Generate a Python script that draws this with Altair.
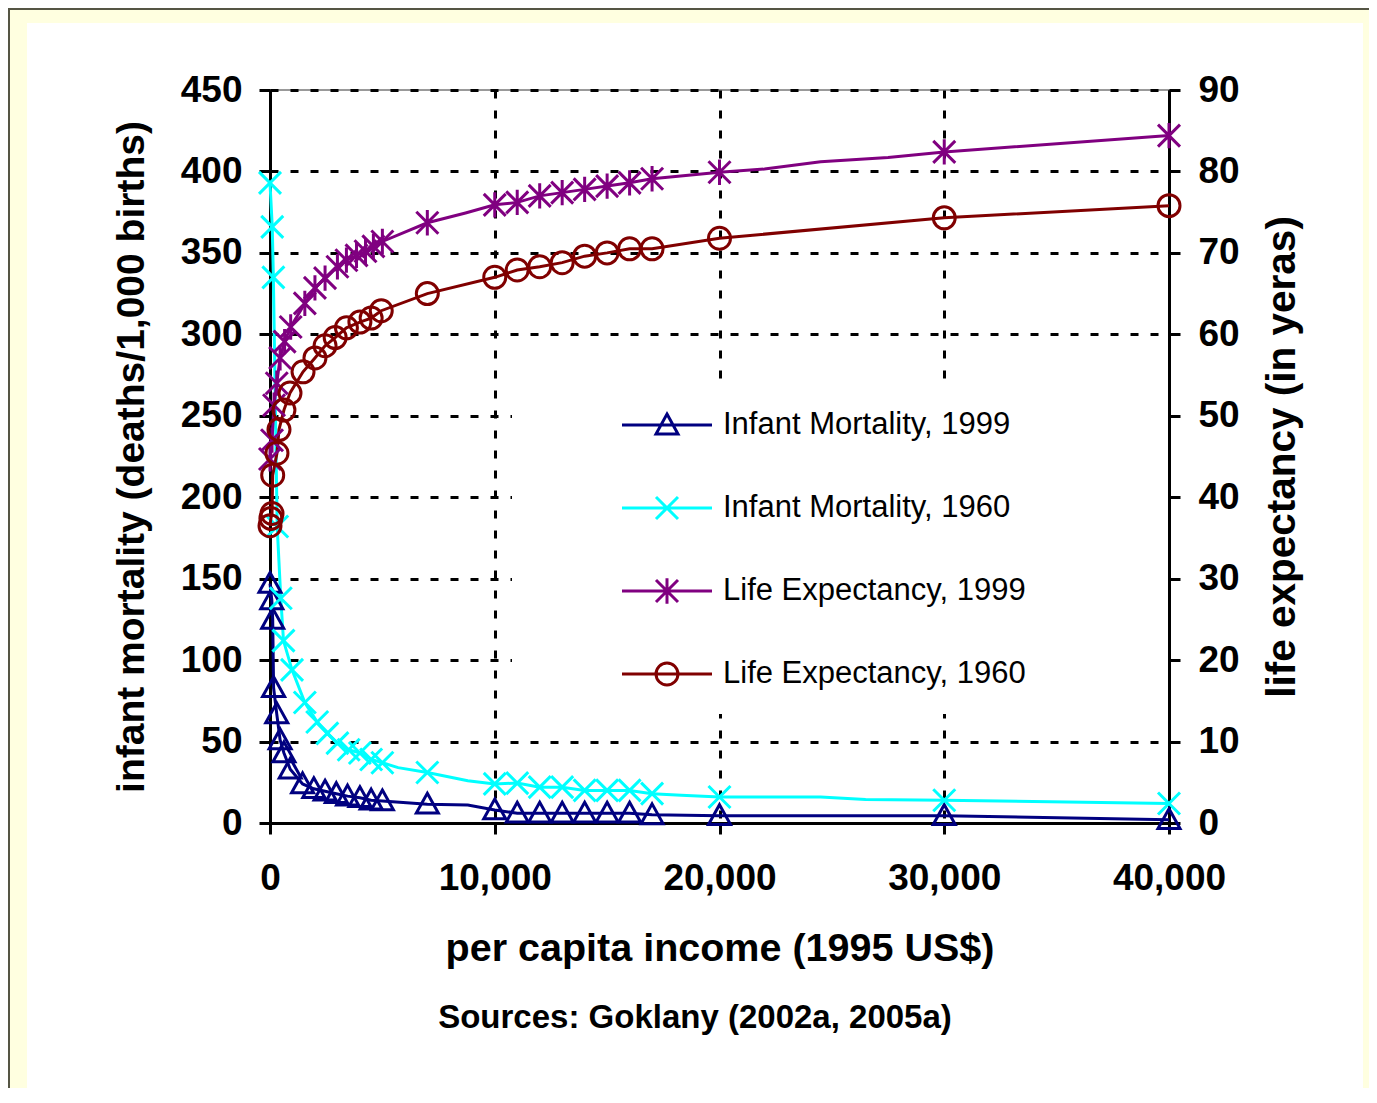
import altair as alt
import pandas as pd

# ---------------- data ----------------
series_names = ["Infant Mortality, 1999", "Infant Mortality, 1960",
                "Life Expectancy, 1999", "Life Expectancy, 1960"]
series_colors = ["#000080", "#00FFFF", "#800080", "#800000"]
source_note = "Sources: Goklany (2002a, 2005a)"

x_ticks = [0, 10000, 20000, 30000, 40000]
left_ticks = [0, 50, 100, 150, 200, 250, 300, 350, 400, 450]
right_ticks = [0, 10, 20, 30, 40, 50, 60, 70, 80, 90]

im1999_income = [0, 80, 120, 160, 300, 450, 620, 900, 1450, 1950, 2450, 2950, 3450,
                 4000, 4500, 5000, 7000, 8800, 10000, 11000, 12000, 13000, 14000,
                 15000, 16000, 17000, 20000, 30000, 40000]
im1999_value = [147, 137, 125, 83, 67, 51, 43, 33, 24, 21, 19.5, 18, 16.5,
                15.5, 14, 13.5, 11.5, 11, 8, 6, 6, 6, 6,
                6, 6, 5, 4.5, 4.5, 2]
im1999_marker = [1] * 17 + [0] + [1] * 11

im1960_income = [0, 100, 150, 320, 480, 600, 980, 1550, 2100, 2550, 3000, 3500, 4000,
                 4500, 5000, 5700, 7000, 8800, 10000, 11000, 12000, 13000, 14000,
                 15000, 16000, 17000, 18300, 20000, 24500, 26500, 30000, 40000]
im1960_value = [393, 366, 335, 182, 138, 112, 94, 74, 62, 55, 49, 45, 43,
                39, 37, 34, 31, 26, 24, 24.5, 22, 22, 20,
                20, 20, 18, 17, 16, 16, 14.5, 14, 12]
im1960_marker = [1] * 15 + [0, 1, 0] + [1] * 8 + [0, 1, 0, 0, 1, 1]

le1999_income = [0, 90, 180, 300, 450, 650, 920, 1550, 2000, 2450, 3000, 3400, 3850,
                 4250, 4600, 5000, 7000, 8700, 10000, 11000, 12000, 13000, 14000,
                 15000, 16000, 17000, 20000, 22000, 24500, 27500, 30000, 40000]
le1999_value = [44.7, 47.0, 51.3, 54.0, 57.1, 59.1, 60.9, 63.8, 65.7, 66.9, 68.3, 69.1, 69.7,
                70.2, 70.8, 71.4, 73.7, 74.9, 75.9, 76.2, 77.0, 77.4, 77.8,
                78.2, 78.6, 79.1, 79.9, 80.3, 81.2, 81.7, 82.4, 84.4]
le1999_marker = [1] * 17 + [0] + [1] * 9 + [0, 0, 0, 1, 1]

le1960_income = [0, 40, 90, 120, 310, 400, 620, 890, 1470, 2000, 2450, 2900, 3400,
                 4000, 4500, 4950, 7000, 10000, 11000, 12000, 13000, 14000, 15000,
                 16000, 17000, 20000, 30000, 40000]
le1960_value = [36.5, 37.4, 38.0, 42.7, 45.4, 48.3, 50.7, 52.8, 55.4, 57.1, 58.6, 59.6, 60.8,
                61.5, 62.0, 62.9, 65.0, 67.0, 67.9, 68.3, 68.8, 69.6, 70.0,
                70.5, 70.5, 71.8, 74.3, 75.8]
le1960_marker = [1] * 28


def series_frame(name, income, value, marker):
    return pd.DataFrame({"series": name, "income": income, "value": value,
                         "marker": marker, "order": list(range(len(income)))})


im_df = pd.concat([series_frame(series_names[0], im1999_income, im1999_value, im1999_marker),
                   series_frame(series_names[1], im1960_income, im1960_value, im1960_marker)])
le_df = pd.concat([series_frame(series_names[2], le1999_income, le1999_value, le1999_marker),
                   series_frame(series_names[3], le1960_income, le1960_value, le1960_marker)])
legend_df = pd.DataFrame({"series": series_names})
frame_df = pd.DataFrame({"k": [0]})

# ---------------- styles ----------------
FONT = "Liberation Sans"
marker_paths = ["M0,-1L1,0.8L-1,0.8Z",
                "M-1,-1L1,1M-1,1L1,-1",
                "M-1,-1L1,1M-1,1L1,-1M0,-1.15L0,1.15",
                "circle"]

# legend symbol box is 188px wide (scale 94px per unit); the visible sample
# (90px line + 22px marker) sits in its right part, just before the label.
c = 0.4202   # marker centre
h = 0.4787   # half line length
m = 0.117    # half marker size
a, b = c - h, c + h
legend_paths = [
    f"M{a:.4f},0L{b:.4f},0M{c},{-m}L{c + m:.4f},{0.82 * m:.4f}L{c - m:.4f},{0.82 * m:.4f}Z",
    f"M{a:.4f},0L{b:.4f},0M{c - m:.4f},{-m}L{c + m:.4f},{m}M{c - m:.4f},{m}L{c + m:.4f},{-m}",
    f"M{a:.4f},0L{b:.4f},0M{c - m:.4f},{-m}L{c + m:.4f},{m}M{c - m:.4f},{m}L{c + m:.4f},{-m}"
    f"M{c},{-1.15 * m:.4f}L{c},{1.15 * m:.4f}",
    f"M{a:.4f},0L{b:.4f},0M{c + m:.4f},0A{m},{m} 0 1,1 {c - m:.4f},0A{m},{m} 0 1,1 {c + m:.4f},0",
]

x_enc = alt.X("income:Q", scale=alt.Scale(domain=[0, 40000], nice=False),
              axis=alt.Axis(values=x_ticks, format=",.0f", title="per capita income (1995 US$)",
                            labelPadding=26, titlePadding=33, grid=True, titleFontSize=39.5))
color_enc = alt.Color("series:N", scale=alt.Scale(domain=series_names, range=series_colors),
                      legend=None)
shape_enc = alt.Shape("series:N", scale=alt.Scale(domain=series_names, range=marker_paths),
                      legend=None)

y_left = alt.Y("value:Q", scale=alt.Scale(domain=[0, 450], nice=False),
               axis=alt.Axis(orient="left", values=left_ticks, grid=True, format="d",
                             title="infant mortality (deaths/1,000 births)",
                             titleAngle=270, titleBaseline="bottom", titleFontSize=39,
                             labelPadding=17, titlePadding=29))
y_right = alt.Y("value:Q", scale=alt.Scale(domain=[0, 90], nice=False),
                axis=alt.Axis(orient="right", values=right_ticks, grid=False, format="d",
                              title="life expectancy (in yeras)",
                              titleAngle=270, titleBaseline="top", titleFontSize=40.5,
                              labelPadding=18, titlePadding=23))


def series_layer(df, y_enc):
    base = alt.Chart(df)
    line = base.mark_line(strokeWidth=3).encode(
        x=x_enc, y=y_enc, color=color_enc, order=alt.Order("order:Q"))
    pts = base.transform_filter(alt.datum.marker == 1).mark_point(
        filled=False, strokeWidth=3, size=484, opacity=1).encode(
        x=x_enc, y=y_enc, color=color_enc, shape=shape_enc)
    return alt.layer(line, pts)


im_layer = series_layer(im_df, y_left)
le_layer = series_layer(le_df, y_right)

BLANK = "\u2800" * 5
legend_def = alt.Legend(orient="none", legendX=242, legendY=295, padding=20, title=None,
                        fillColor="white",
                        labelFont=FONT, labelFontSize=31, labelColor="black",
                        labelExpr=f"datum.label + '{BLANK}'",
                        labelOffset=0, labelLimit=800, symbolSize=188 * 188,
                        symbolStrokeWidth=3, clipHeight=40, rowPadding=43,
                        symbolOpacity=1)
legend_layer = alt.Chart(legend_df).transform_filter(
    alt.datum.series == "__none__").mark_point(filled=False, strokeWidth=3).encode(
    x=alt.value(0), y=alt.value(0),
    color=alt.Color("series:N", scale=alt.Scale(domain=series_names, range=series_colors),
                    legend=legend_def),
    shape=alt.Shape("series:N", scale=alt.Scale(domain=series_names, range=legend_paths),
                    legend=legend_def))

source_layer = alt.Chart(frame_df).mark_text(
    font=FONT, fontSize=33, fontWeight="bold", color="black",
    align="center", baseline="middle").encode(
    x=alt.value(425), y=alt.value(928), text=alt.value(source_note))


def strip(x, x2, y, y2, color):
    return alt.Chart(frame_df).mark_rect(color=color).encode(
        x=alt.value(x), x2=alt.value(x2), y=alt.value(y), y2=alt.value(y2))


YELLOW = "#FFFFE0"
frame_layers = [
    strip(-262, -243, -82, 1000, YELLOW),
    strip(-262, 1099, -82, -67, YELLOW),
    strip(1093, 1099, -82, 1000, YELLOW),
    strip(-262, -260, -82, 1000, "#555544"),
    strip(-262, 1099, -82, -80, "#555544"),
]

chart = alt.layer(*frame_layers, source_layer, im_layer, le_layer, legend_layer).resolve_scale(
    y="independent", color="independent", shape="independent"
).properties(
    width=899, height=733,
    autosize=alt.AutoSizeParams(type="none"),
    padding={"left": 262, "top": 82, "right": 200, "bottom": 265},
).configure_view(
    stroke="#999999", strokeWidth=2
).configure_axis(
    labelFont=FONT, labelFontSize=37, labelFontWeight="bold", labelColor="black",
    titleFont=FONT, titleFontSize=38, titleFontWeight="bold", titleColor="black",
    domainColor="black", domainWidth=3, tickColor="black", tickWidth=3, tickSize=11,
    gridColor="black", gridDash=[8, 12], gridWidth=3, gridOpacity=1,
    labelFlush=False, labelOverlap=False, labelBound=False,
)

chart.save("out.html", embed_options={"renderer": "svg", "actions": False})
